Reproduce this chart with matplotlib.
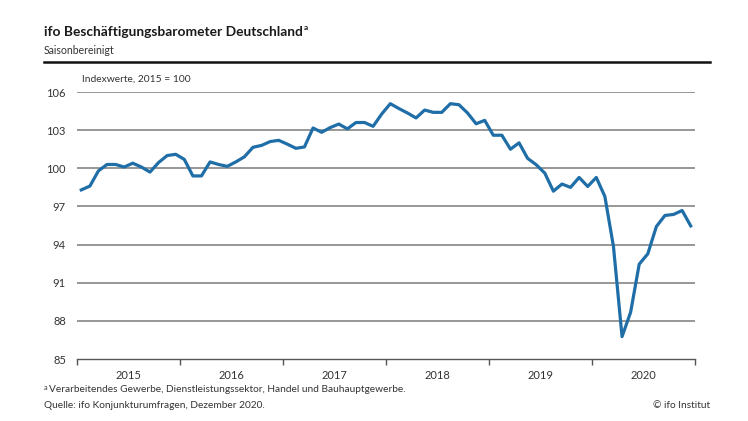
import matplotlib
matplotlib.use('Agg')
import matplotlib.pyplot as plt
from matplotlib.lines import Line2D

plt.rcParams['font.family'] = ['Lato', 'DejaVu Sans']

years = ['2015', '2016', '2017', '2018', '2019', '2020']
values = [98.3, 98.6, 99.8, 100.3, 100.3, 100.1, 100.4, 100.1, 99.7, 100.45, 101.0, 101.1,
          100.7, 99.4, 99.4, 100.5, 100.3, 100.15, 100.5, 100.9, 101.65, 101.8, 102.1, 102.2,
          101.9, 101.57, 101.68, 103.17, 102.83, 103.2, 103.48, 103.1, 103.6, 103.6, 103.3, 104.27,
          105.08, 104.7, 104.35, 103.96, 104.58, 104.4, 104.4, 105.08, 105.0, 104.35, 103.5, 103.77,
          102.6, 102.6, 101.5, 102.0, 100.78, 100.28, 99.62, 98.2, 98.76, 98.5, 99.28, 98.57,
          99.28, 97.78, 93.85, 86.76, 88.68, 92.46, 93.27, 95.42, 96.29, 96.37, 96.68, 95.47]
yticks = [85, 88, 91, 94, 97, 100, 103, 106]

W, H = 748, 421
fig = plt.figure(figsize=(W / 100, H / 100), dpi=100)

ax = fig.add_axes([77 / W, 1 - 359 / H, 618 / W, 267 / H])
x = list(range(len(values)))
ax.plot(x, values, color='#1f6ea8', lw=2.3, solid_joinstyle='round', zorder=3)

ax.set_xlim(-0.5, len(values) - 0.5)
ax.set_ylim(85, 106)
for v in yticks[1:]:
    ax.axhline(v, color='#7a7a7a', lw=1.1, zorder=1)
for s in ['top', 'right', 'left']:
    ax.spines[s].set_visible(False)
ax.spines['bottom'].set_color('#555555')
ax.spines['bottom'].set_linewidth(1.0)

ax.set_yticks(yticks)
ax.set_yticklabels([str(v) for v in yticks])
ax.tick_params(axis='y', length=0, pad=8, labelsize=8, labelcolor='#333333')

n_years = len(years)
ax.set_xticks([i * 12 - 0.5 for i in range(n_years + 1)])
ax.set_xticklabels([''] * (n_years + 1))
ax.set_xticks([i * 12 + 5.5 for i in range(n_years)], minor=True)
ax.set_xticklabels(years, minor=True)
ax.tick_params(axis='x', which='major', length=4, width=1.0, color='#555555', direction='out')
ax.tick_params(axis='x', which='minor', length=0, pad=8, labelsize=8, labelcolor='#333333')

# header
title = fig.text(44 / W, 1 - 32 / H, 'ifo Beschäftigungsbarometer Deutschland', fontsize=9.9,
                 fontweight='bold', color='#1a1a1a', va='center', ha='left')
fig.canvas.draw()
bb = title.get_window_extent(fig.canvas.get_renderer())
fig.text((bb.x1 + 1) / W, 1 - 28 / H, 'a', fontsize=6, fontweight='bold', color='#1a1a1a',
         va='center', ha='left')
fig.text(44 / W, 1 - 50 / H, 'Saisonbereinigt', fontsize=7.6, color='#333333', va='center', ha='left')
fig.add_artist(Line2D([44 / W, 710 / W], [1 - 62 / H, 1 - 62 / H], color='#111111', lw=1.8))
fig.text(82 / W, 1 - 79 / H, 'Indexwerte, 2015 = 100', fontsize=7.4, color='#333333',
         va='center', ha='left')

# footer
fig.text(44 / W, 1 - 387 / H, 'a', fontsize=5.2, color='#333333', va='center', ha='left')
fig.text(49 / W, 1 - 390 / H, 'Verarbeitendes Gewerbe, Dienstleistungssektor, Handel und Bauhauptgewerbe.',
         fontsize=7.3, color='#333333', va='center', ha='left')
fig.text(44 / W, 1 - 406 / H, 'Quelle: ifo Konjunkturumfragen, Dezember 2020.', fontsize=7.3,
         color='#333333', va='center', ha='left')
fig.text(710 / W, 1 - 406 / H, '© ifo Institut', fontsize=7.3, color='#333333', va='center', ha='right')

fig.savefig('out.png', dpi=100, facecolor='white')
